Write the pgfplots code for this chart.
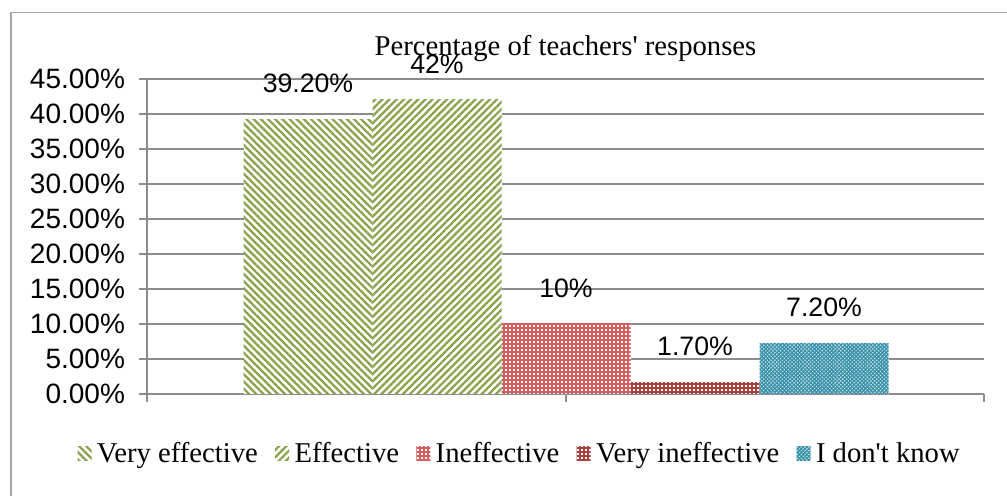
\documentclass[border=0pt]{standalone}
\usepackage{fontspec}
\setmainfont{Liberation Serif}
\newfontfamily\arial{Liberation Sans}
\usepackage{pgfplots}
\pgfplotsset{compat=1.18}
\usetikzlibrary{patterns.meta}

\definecolor{grn}{HTML}{8AA24C}
\definecolor{red1}{HTML}{D45E5C}
\definecolor{red2}{HTML}{A8403D}
\definecolor{teal1}{HTML}{3A92AB}
\definecolor{gridc}{HTML}{8C8C8C}
\definecolor{framec}{HTML}{A6A6A6}

\begin{document}
\begin{tikzpicture}[x=0.75pt,y=0.75pt]
\path[use as bounding box] (0,0) rectangle (1007,496);
\draw[framec, line width=0.9pt] (11,-10) -- (11,483.5) -- (1020,483.5);
\begin{axis}[
  at={(110.25pt,76.5pt)}, anchor=south west,
  scale only axis, width=627.75pt, height=236.25pt,
  xmin=0, xmax=837, ymin=0, ymax=45,
  axis lines*=left,
  ytick={0,5,...,45}, xtick={0,419,837}, xticklabels={},
  ymajorgrids, grid style={gridc, line width=1.1pt},
  axis line style={gridc, line width=1.1pt},
  tick style={gridc, line width=1.1pt},
  tick align=outside, major tick length=6pt,
  ybar=0pt, bar width=96.75pt,
  /pgf/number format/assume math mode=true,
  yticklabel={\pgfmathprintnumber[fixed,fixed zerofill,precision=2]{\tick}\%},
  yticklabel style={font=\arial\fontsize{21}{24}\selectfont, xshift=-7pt},
  every node near coord/.append style={font=\arial\fontsize{20}{24}\selectfont, anchor=base, yshift=20pt, inner sep=0pt, black},
  title={Percentage of teachers\textquotesingle\ responses},
  title style={font=\fontsize{21.5}{24}\selectfont, anchor=base, yshift=11.5pt},
  legend style={at={(0.4456,-0.19)}, anchor=center, draw=none, font=\fontsize{21.5}{24}\selectfont,
    /tikz/every even column/.append style={column sep=11pt},
    /tikz/every odd column/.append style={column sep=2pt}},
  legend columns=-1,
  legend image code/.code={\fill[#1] (0pt,-5pt) rectangle (10.5pt,5.5pt);},
]
\addplot[draw=none, preaction={fill=white}, pattern={Lines[angle=-45,distance=3.8pt,line width=1.7pt]}, pattern color=grn, nodes near coords={39.20\%}] coordinates {(419,39.2)};
\addlegendentry{Very effective}
\addplot[draw=none, preaction={fill=white}, pattern={Lines[angle=45,distance=3.8pt,line width=1.7pt]}, pattern color=grn, nodes near coords={42\%}] coordinates {(419,42)};
\addlegendentry{Effective}
\addplot[draw=none, preaction={fill=white}, pattern={Hatch[angle=0,distance=3pt,line width=1.3pt]}, pattern color=red1, nodes near coords={10\%}] coordinates {(419,10)};
\addlegendentry{Ineffective}
\addplot[draw=none, preaction={fill=white}, pattern={Hatch[angle=0,distance=3pt,line width=1.3pt]}, pattern color=red2, nodes near coords={1.70\%}] coordinates {(419,1.7)};
\addlegendentry{Very ineffective}
\addplot[draw=none, preaction={fill=white}, pattern={Hatch[angle=45,distance=2pt,line width=1.1pt]}, pattern color=teal1, nodes near coords={7.20\%}] coordinates {(419,7.2)};
\addlegendentry{I don\textquotesingle t know}
\end{axis}
\end{tikzpicture}
\end{document}
